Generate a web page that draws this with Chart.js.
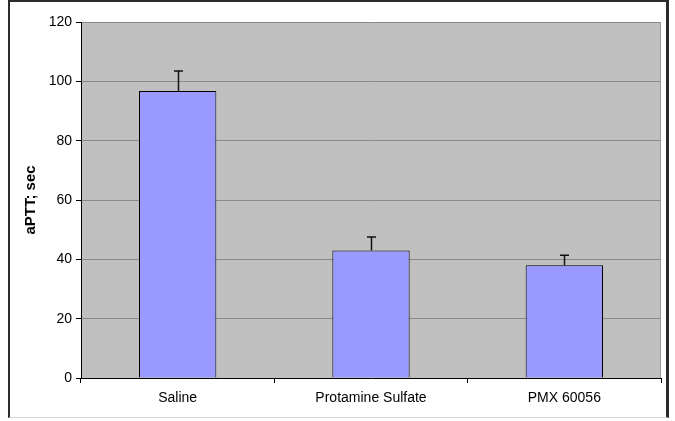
<!DOCTYPE html>
<html>
<head>
    <meta charset="UTF-8">
    <title>aPTT</title>
    <script src="https://cdn.jsdelivr.net/npm/chart.js"></script>
    <style>
        body { margin: 0; background: #fff; font-family: Arial, "Liberation Sans", sans-serif; }
        #frame { position: absolute; left: 8px; top: 0; width: 661px; height: 418px; border-left: 2px solid #2b2b2b; border-right: 3px solid #2b2b2b; border-top: 2px solid #2b2b2b; border-bottom: 1px solid #d8d8d8; box-sizing: border-box; }
        #wrap { position: absolute; left: 0; top: 0; width: 675px; height: 421px; }
    </style>
</head>
<body>
    <div id="frame"></div>
    <div id="wrap"><canvas id="chart" width="675" height="421"></canvas></div>

    <script>
        // data
        const categories = ['Saline', 'Protamine Sulfate', 'PMX 60056'];
        const values = [96.7, 43, 38];
        const errors = [6.8, 4.5, 3.4];
        const yTicks = [0, 20, 40, 60, 80, 100, 120];

        const font = { family: 'Arial, "Liberation Sans", sans-serif', size: 14 };

        // grey plot area
        const plotBg = {
            id: 'plotBg',
            beforeDraw(chart) {
                const { ctx, chartArea: a } = chart;
                ctx.save();
                ctx.fillStyle = '#c0c0c0';
                ctx.fillRect(a.left, a.top, a.right - a.left, a.bottom - a.top);
                ctx.strokeStyle = '#9a9a9a';
                ctx.lineWidth = 1;
                ctx.beginPath();
                ctx.moveTo(a.right - 0.5, a.top);
                ctx.lineTo(a.right - 0.5, a.bottom);
                ctx.stroke();
                ctx.restore();
            }
        };

        // upper error bars only
        const errorBars = {
            id: 'errorBars',
            afterDatasetsDraw(chart) {
                const { ctx } = chart;
                const y = chart.scales.y;
                const meta = chart.getDatasetMeta(0);
                ctx.save();
                ctx.strokeStyle = '#111';
                ctx.lineWidth = 1.5;
                meta.data.forEach((bar, i) => {
                    const x = Math.round(bar.x) + 0.5;
                    const top = y.getPixelForValue(values[i] + errors[i]);
                    const base = y.getPixelForValue(values[i]);
                    ctx.beginPath();
                    ctx.moveTo(x, base);
                    ctx.lineTo(x, top);
                    ctx.moveTo(x - 4.5, top);
                    ctx.lineTo(x + 4.5, top);
                    ctx.stroke();
                });
                ctx.restore();
            }
        };

        new Chart(document.getElementById('chart'), {
            type: 'bar',
            data: {
                labels: categories,
                datasets: [{
                    data: values,
                    backgroundColor: '#9999ff',
                    borderColor: '#000',
                    borderWidth: 1,
                    categoryPercentage: 1,
                    barPercentage: 0.4
                }]
            },
            options: {
                responsive: false,
                animation: false,
                layout: { padding: { left: 0, top: 22, right: 14, bottom: 0 } },
                plugins: { legend: { display: false }, tooltip: { enabled: false } },
                scales: {
                    x: {
                        grid: { display: true, drawOnChartArea: false, offset: true, tickLength: 5, tickColor: '#000' },
                        border: { color: '#000', width: 1 },
                        ticks: { color: '#000', font: font, padding: 7 },
                        afterFit(scale) { scale.height = 43; }
                    },
                    y: {
                        min: 0,
                        max: 120,
                        afterBuildTicks(scale) { scale.ticks = yTicks.map(v => ({ value: v })); },
                        grid: { color: '#8a8a8a', tickLength: 5, tickColor: '#000' },
                        border: { color: '#000', width: 1 },
                        ticks: { color: '#000', font: font, padding: 4 },
                        title: {
                            display: true,
                            text: 'aPTT; sec',
                            color: '#000',
                            font: { family: font.family, size: 15, weight: 'bold' },
                            padding: { top: 22, bottom: 0 }
                        },
                        afterFit(scale) { scale.width = 81; }
                    }
                }
            },
            plugins: [plotBg, errorBars]
        });
    </script>
</body>
</html>
